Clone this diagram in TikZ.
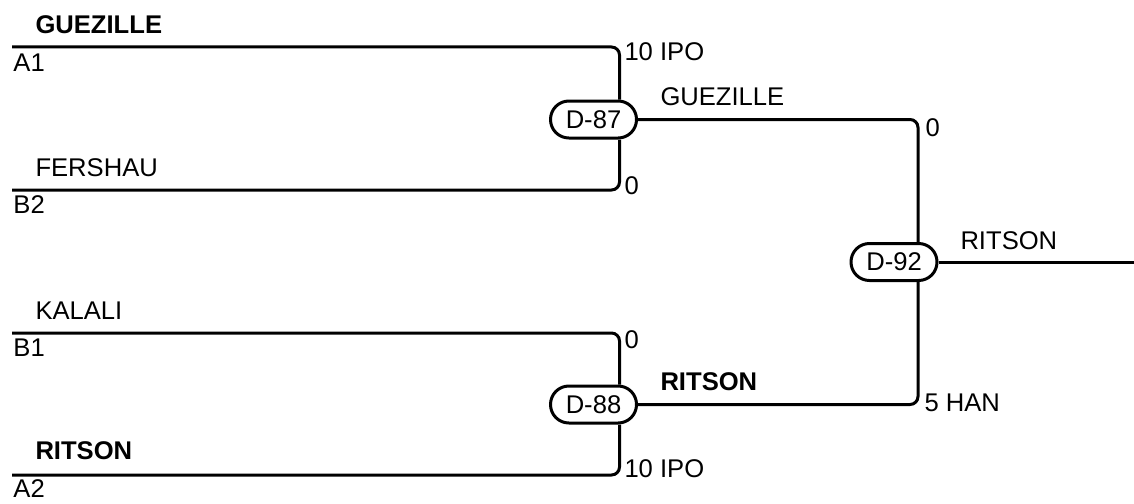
\documentclass[tikz,border=0pt]{standalone}
\usepackage{fontspec}
\setmainfont{Liberation Sans}
\begin{document}
\begin{tikzpicture}[x=0.75pt,y=-0.75pt,
  font=\fontsize{19.2}{22}\selectfont,
  line width=2.25pt,
  match/.style={draw, rounded corners=13.8pt, minimum width=64.5pt, minimum height=27.75pt, inner sep=0pt},
  lbl/.style={anchor=west, inner sep=0pt},
  blbl/.style={lbl, font=\fontsize{19.2}{22}\selectfont\bfseries},
  conn/.style={rounded corners=6pt}]
\useasboundingbox (0,0) rectangle (1134,503);
% match nodes
\node[match] (d87) at (593.5,119.5) {D-87};
\node[match] (d88) at (593.5,404.5) {D-88};
\node[match] (d92) at (894,262) {D-92};
% entry points
\coordinate (a1) at (12,47);
\coordinate (b2) at (12,190);
\coordinate (b1) at (12,333);
\coordinate (a2) at (12,475);
\coordinate (out) at (1134,262);
% connectors
\draw[conn] (a1) -| ([xshift=19.5pt]d87.north);
\draw[conn] (b2) -| ([xshift=19.5pt]d87.south);
\draw[conn] (b1) -| ([xshift=19.5pt]d88.north);
\draw[conn] (a2) -| ([xshift=19.5pt]d88.south);
\draw[conn] (d87.east) -| ([xshift=18pt]d92.north);
\draw[conn] (d88.east) -| ([xshift=18pt]d92.south);
\draw (d92.east) -- (out);
% team labels
\node[blbl] (t1) at (34,24.5) {GUEZILLE};
\node[lbl] (s1) at (12,62.5) {A1};
\node[lbl] (t2) at (34,167.5) {FERSHAU};
\node[lbl] (s2) at (12,205) {B2};
\node[lbl] (t3) at (34,310.5) {KALALI};
\node[lbl] (s3) at (12,348) {B1};
\node[blbl] (t4) at (34,451) {RITSON};
\node[lbl] (s4) at (12,489) {A2};
% scores
\node[lbl] (r1) at (623,51.5) {10 IPO};
\node[lbl] (r2) at (623,186) {0};
\node[lbl] (r3) at (623,340) {0};
\node[lbl] (r4) at (623,469) {10 IPO};
\node[lbl] (w1) at (659,96.5) {GUEZILLE};
\node[blbl] (w2) at (659,382) {RITSON};
\node[lbl] (r5) at (924,127.5) {0};
\node[lbl] (r6) at (923,403) {5 HAN};
\node[lbl] (w3) at (959,240.5) {RITSON};
\end{tikzpicture}
\end{document}
